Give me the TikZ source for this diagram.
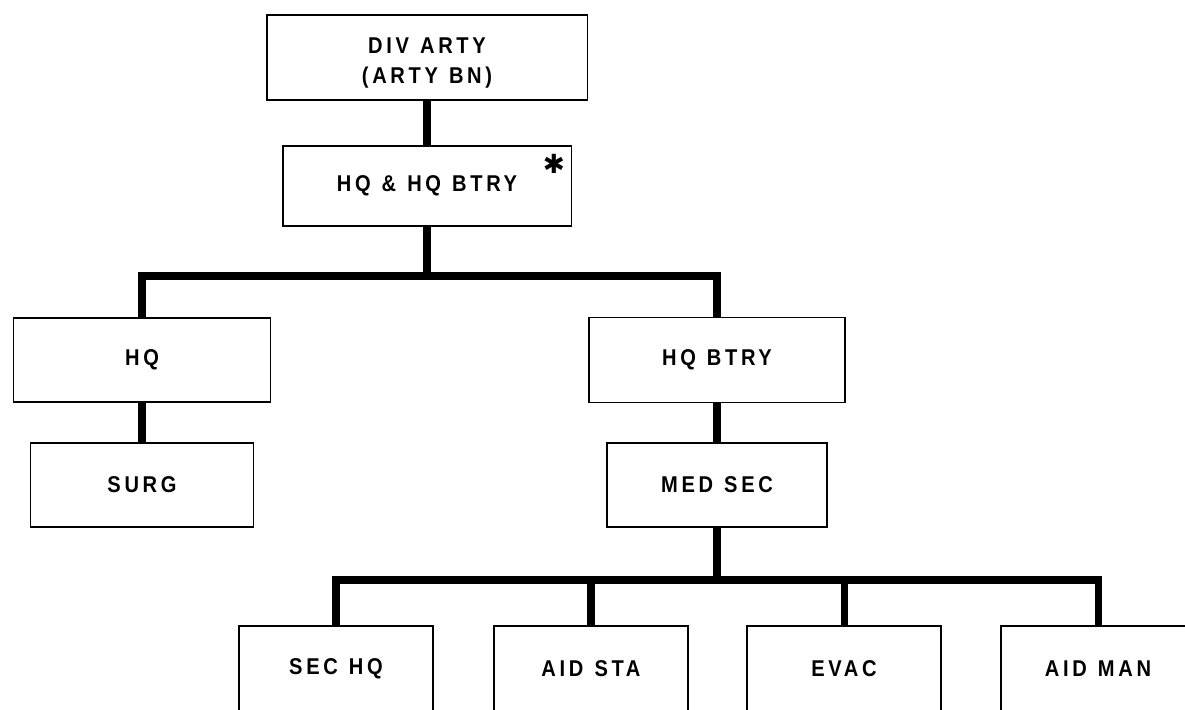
\documentclass[tikz,border=0pt]{standalone}
\usepackage{fontspec}
\newfontfamily\unitfont{Liberation Sans}[LetterSpace=16, FakeStretch=0.88, WordSpace=1.2]
\newfontfamily\markfont{DejaVu Sans}
\usetikzlibrary{calc}
\tikzset{
  unitbox/.style={draw, line width=1.1pt, minimum height=1.7cm, align=center, inner sep=0pt,
    font=\unitfont\bfseries\fontsize{13}{17}\selectfont},
  link/.style={line width=4pt},
  starmark/.style={font=\markfont\fontsize{15}{15}\selectfont, inner sep=0pt}
}

\begin{document}
\begin{tikzpicture}[x=0.02cm, y=-0.02cm]
\useasboundingbox (0,0) rectangle (1185,709);
% command chain
\node[unitbox, minimum width=6.42cm] (divarty) at (427,57.5)
  {\raisebox{-0.11cm}[\height][\depth]{\shortstack{DIV ARTY\\[5pt](ARTY BN)}}};
\node[unitbox, minimum width=5.78cm, minimum height=1.6cm] (hqhq) at (427,186) {HQ \& HQ BTRY};
\node[starmark] (star) at (554,164) {✱};
\node[unitbox, minimum width=5.14cm, minimum height=1.68cm] (hq) at (142,360) {HQ};
\node[unitbox, minimum width=5.12cm] (hqbtry) at (717,360) {HQ BTRY};
\node[unitbox, minimum width=4.46cm, minimum height=1.68cm] (surg) at (142,485) {SURG};
\node[unitbox, minimum width=4.4cm, minimum height=1.68cm] (medsec) at (717,485) {MED SEC};
% medical section elements
\node[unitbox, minimum width=3.88cm, minimum height=1.72cm] (sechq) at (336,669) {SEC HQ};
\node[unitbox, minimum width=3.88cm, minimum height=1.72cm] (aidsta) at (591,669) {AID STA};
\node[unitbox, minimum width=3.88cm, minimum height=1.72cm] (evac) at (844,669) {EVAC};
\node[unitbox, minimum width=3.88cm, minimum height=1.72cm] (aidman) at (1098,669) {AID MAN};

\coordinate (busa) at (427,276);
\coordinate (busb) at (717,580);

\draw[link] (divarty) -- (hqhq);
\draw[link] (hqhq.south) -- (busa);
\draw[link] (hq.north) |- (busa) -| (hqbtry.north);
\draw[link] (hq) -- (surg);
\draw[link] (hqbtry) -- (medsec);
\draw[link] (medsec.south) -- (busb);
\draw[link] (sechq.north) |- (busb) -| (aidman.north);
\draw[link] (aidsta.north) -- (aidsta.north |- busb);
\draw[link] (evac.north) -- (evac.north |- busb);
\end{tikzpicture}
\end{document}
